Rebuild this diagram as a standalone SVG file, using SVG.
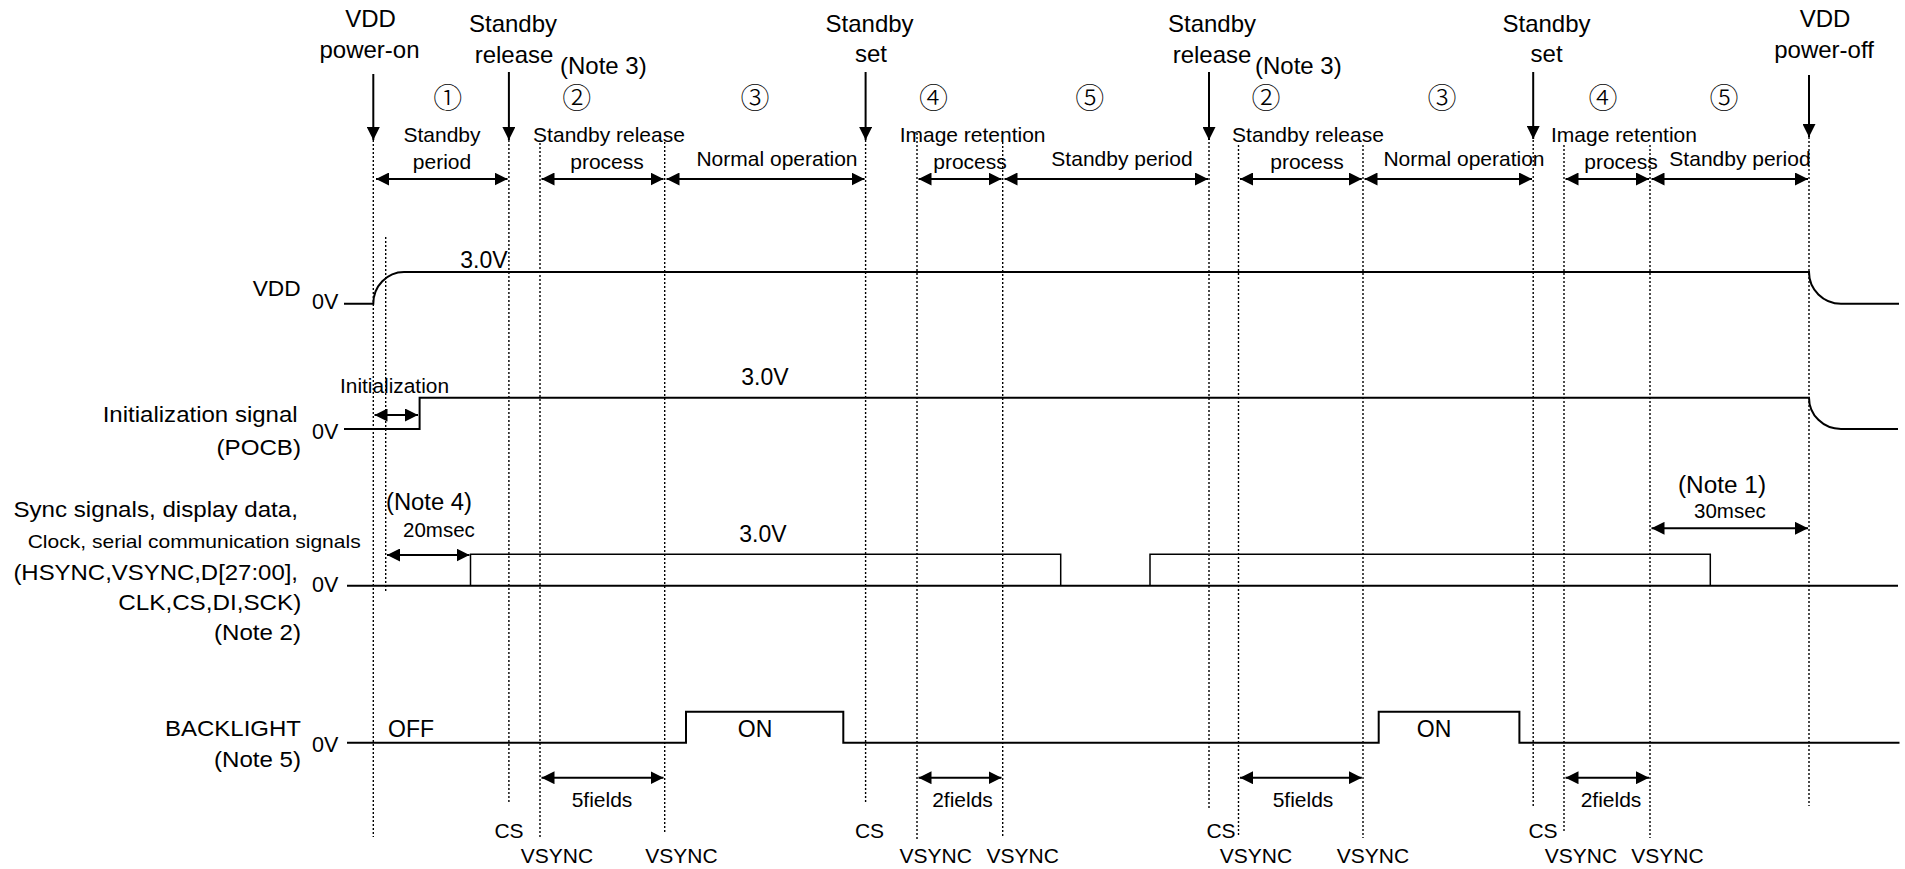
<svg xmlns="http://www.w3.org/2000/svg" width="1905" height="869" viewBox="0 0 1905 869">
<style>
text{font-family:"Liberation Sans",Arial,sans-serif;fill:#000}
.top{font-size:24px;text-anchor:middle}
.ph{font-size:21px;text-anchor:middle}
.num{font-family:"Noto Sans CJK JP",sans-serif;font-weight:300;font-size:29px;text-anchor:middle}
.sig{font-size:22px}
.zv{font-size:21.5px}
.sm{font-size:21px;text-anchor:middle}
.big{font-size:23px;text-anchor:middle}
.dot{stroke:#000;stroke-width:1.4;stroke-dasharray:2 2;fill:none}
.wave{stroke:#000;stroke-width:2;fill:none}
.wthin{stroke:#000;stroke-width:1.5;fill:none}
.arr{stroke:#000;stroke-width:2;fill:none;marker-end:url(#ah)}
.darr{stroke:#000;stroke-width:2;fill:none;marker-start:url(#ah);marker-end:url(#ah)}
</style>
<defs>
<marker id="ah" viewBox="0 0 13 13" refX="13" refY="6.5" markerWidth="13" markerHeight="13" markerUnits="userSpaceOnUse" orient="auto-start-reverse">
<path d="M0,0 L13,6.5 L0,13 Z" fill="#000"/>
</marker>
</defs>
<rect width="1905" height="869" fill="#fff"/>

<g id="connectors">
<g id="gridlines">
<line class="dot" x1="373.3" y1="140" x2="373.3" y2="837"/>
<line class="dot" x1="385.7" y1="237" x2="385.7" y2="593"/>
<line class="dot" x1="508.9" y1="140" x2="508.9" y2="804"/>
<line class="dot" x1="540" y1="143" x2="540" y2="837"/>
<line class="dot" x1="664.7" y1="142" x2="664.7" y2="834"/>
<line class="dot" x1="865.6" y1="140" x2="865.6" y2="803"/>
<line class="dot" x1="917" y1="133" x2="917" y2="840"/>
<line class="dot" x1="1002.7" y1="142" x2="1002.7" y2="838"/>
<line class="dot" x1="1209" y1="142" x2="1209" y2="808"/>
<line class="dot" x1="1238.5" y1="145" x2="1238.5" y2="837"/>
<line class="dot" x1="1363" y1="145" x2="1363" y2="838"/>
<line class="dot" x1="1533.2" y1="140" x2="1533.2" y2="806"/>
<line class="dot" x1="1564" y1="145" x2="1564" y2="833"/>
<line class="dot" x1="1650" y1="145" x2="1650" y2="838"/>
<line class="dot" x1="1809" y1="137" x2="1809" y2="806"/>
</g>
<g id="event-arrows">
<line class="arr" x1="373.3" y1="74" x2="373.3" y2="140"/>
<line class="arr" x1="508.9" y1="72" x2="508.9" y2="140"/>
<line class="arr" x1="865.6" y1="72" x2="865.6" y2="140"/>
<line class="arr" x1="1209" y1="72" x2="1209" y2="140"/>
<line class="arr" x1="1533.2" y1="72" x2="1533.2" y2="139"/>
<line class="arr" x1="1809" y1="75" x2="1809" y2="137"/>
</g>
<g id="phase-arrows">
<line class="darr" x1="376" y1="179" x2="507.5" y2="179"/>
<line class="darr" x1="541.5" y1="179" x2="663.5" y2="179"/>
<line class="darr" x1="666.5" y1="179" x2="864.5" y2="179"/>
<line class="darr" x1="918.5" y1="179" x2="1001.5" y2="179"/>
<line class="darr" x1="1004.5" y1="179" x2="1208" y2="179"/>
<line class="darr" x1="1240" y1="179" x2="1361.8" y2="179"/>
<line class="darr" x1="1364.5" y1="179" x2="1532" y2="179"/>
<line class="darr" x1="1565.5" y1="179" x2="1649" y2="179"/>
<line class="darr" x1="1651.5" y1="179" x2="1808" y2="179"/>
</g>
<g id="timing-arrows">
<line class="darr" x1="374.5" y1="415" x2="418" y2="415"/>
<line class="darr" x1="387" y1="555" x2="469.5" y2="555"/>
<line class="darr" x1="1651.5" y1="528.3" x2="1808" y2="528.3"/>
<line class="darr" x1="541.5" y1="777.7" x2="663.5" y2="777.7"/>
<line class="darr" x1="918.5" y1="777.7" x2="1001.5" y2="777.7"/>
<line class="darr" x1="1240" y1="777.7" x2="1361.8" y2="777.7"/>
<line class="darr" x1="1565.5" y1="777.7" x2="1649" y2="777.7"/>
</g>
</g>

<g id="events">
<g id="ev-poweron">
<text class="top" x="370.5" y="27">VDD</text>
<text class="top" x="369.5" y="58">power-on</text>
</g>
<g id="ev-release1">
<text class="top" x="513" y="32">Standby</text>
<text class="top" x="514" y="63">release</text>
<text x="560" y="74" style="font-size:24px">(Note 3)</text>
</g>
<g id="ev-set1">
<text class="top" x="869.6" y="32">Standby</text>
<text class="top" x="871" y="62">set</text>
</g>
<g id="ev-release2">
<text class="top" x="1212" y="32">Standby</text>
<text class="top" x="1212" y="63">release</text>
<text x="1255" y="74" style="font-size:24px">(Note 3)</text>
</g>
<g id="ev-set2">
<text class="top" x="1546.5" y="32">Standby</text>
<text class="top" x="1546.6" y="62">set</text>
</g>
<g id="ev-poweroff">
<text class="top" x="1825" y="27">VDD</text>
<text class="top" x="1824" y="58">power-off</text>
</g>
</g>

<g id="phases">
<g id="ph1"><text class="num" x="447.7" y="109">①</text><text class="ph" x="442" y="142">Standby</text><text class="ph" x="442" y="169">period</text></g>
<g id="ph2a"><text class="num" x="576.7" y="109">②</text><text class="ph" x="609" y="142">Standby release</text><text class="ph" x="607" y="169">process</text></g>
<g id="ph3a"><text class="num" x="755" y="109">③</text><text class="ph" x="777" y="166">Normal operation</text></g>
<g id="ph4a"><text class="num" x="933.5" y="109">④</text><text class="ph" x="972.6" y="142">Image retention</text><text class="ph" x="970" y="169">process</text></g>
<g id="ph5a"><text class="num" x="1089.7" y="109">⑤</text><text class="ph" x="1122" y="166">Standby period</text></g>
<g id="ph2b"><text class="num" x="1266" y="109">②</text><text class="ph" x="1308" y="142">Standby release</text><text class="ph" x="1307" y="169">process</text></g>
<g id="ph3b"><text class="num" x="1442" y="109">③</text><text class="ph" x="1464" y="166">Normal operation</text></g>
<g id="ph4b"><text class="num" x="1603" y="109">④</text><text class="ph" x="1624" y="142">Image retention</text><text class="ph" x="1621" y="169">process</text></g>
<g id="ph5b"><text class="num" x="1724" y="109">⑤</text><text class="ph" x="1740" y="166">Standby period</text></g>
</g>

<g id="sig-vdd">
<text class="sig" x="252.7" y="296.3" textLength="48" lengthAdjust="spacingAndGlyphs">VDD</text>
<text class="zv" x="312" y="309">0V</text>
<text class="big" x="484" y="268.3">3.0V</text>
<path class="wave" d="M344 303.7 H373.3 A30.7 31.7 0 0 1 404 272 H1809 A32 31.7 0 0 0 1841 303.7 H1899"/>
</g>

<g id="sig-pocb">
<text class="sig" x="102.7" y="422" textLength="195" lengthAdjust="spacingAndGlyphs">Initialization signal</text>
<text class="sig" x="216.5" y="455" textLength="84.5" lengthAdjust="spacingAndGlyphs">(POCB)</text>
<text class="zv" x="312" y="438.5">0V</text>
<text x="340" y="393" style="font-size:20px" textLength="109" lengthAdjust="spacingAndGlyphs">Initialization</text>
<text class="big" x="765" y="385">3.0V</text>
<path class="wave" d="M344 429 H419.6 V397.7 H1809 A32 31.3 0 0 0 1841 429 H1898"/>
</g>

<g id="sig-sync">
<text class="sig" x="13.4" y="516.7" textLength="284.6" lengthAdjust="spacingAndGlyphs">Sync signals, display data,</text>
<text x="27.7" y="548.3" style="font-size:19px" textLength="333" lengthAdjust="spacingAndGlyphs">Clock, serial communication signals</text>
<text class="sig" x="13.4" y="580" textLength="284.6" lengthAdjust="spacingAndGlyphs">(HSYNC,VSYNC,D[27:00],</text>
<text class="sig" x="118.3" y="610" textLength="183" lengthAdjust="spacingAndGlyphs">CLK,CS,DI,SCK)</text>
<text class="sig" x="214" y="640" textLength="87" lengthAdjust="spacingAndGlyphs">(Note 2)</text>
<text class="zv" x="312" y="592">0V</text>
<text x="386" y="510" style="font-size:23px" textLength="86" lengthAdjust="spacingAndGlyphs">(Note 4)</text>
<text x="403" y="536.7" style="font-size:20.5px">20msec</text>
<text class="big" x="763" y="541.7">3.0V</text>
<text x="1678" y="493" style="font-size:23px" textLength="88" lengthAdjust="spacingAndGlyphs">(Note 1)</text>
<text x="1694" y="518" style="font-size:20.5px">30msec</text>
<path class="wave" d="M347 585.7 H1898"/>
<path class="wthin" d="M470.5 585.7 V554.3 H1060.7 V585.7 M1150 585.7 V554.3 H1710.3 V585.7"/>
</g>

<g id="sig-backlight">
<text class="sig" x="165" y="736" textLength="136" lengthAdjust="spacingAndGlyphs">BACKLIGHT</text>
<text class="sig" x="214" y="766.7" textLength="87" lengthAdjust="spacingAndGlyphs">(Note 5)</text>
<text class="zv" x="312" y="751.7">0V</text>
<text x="388" y="736.7" style="font-size:23px">OFF</text>
<text class="big" x="755" y="736.7">ON</text>
<text class="big" x="1434" y="736.7">ON</text>
<path class="wave" d="M347 742.7 H686 V711.7 H843.3 V742.7 H1378.7 V711.7 H1519.4 V742.7 H1899.5"/>
</g>

<g id="bottom-labels">
<text class="sm" x="602" y="806.7">5fields</text>
<text class="sm" x="962.5" y="806.7">2fields</text>
<text class="sm" x="1303" y="806.7">5fields</text>
<text class="sm" x="1611" y="806.7">2fields</text>
<text class="sm" x="509" y="838.3">CS</text>
<text class="sm" x="869.5" y="838.3">CS</text>
<text class="sm" x="1221" y="838.3">CS</text>
<text class="sm" x="1543" y="838.3">CS</text>
<text class="sm" x="557" y="863.3">VSYNC</text>
<text class="sm" x="681.5" y="863.3">VSYNC</text>
<text class="sm" x="935.7" y="863.3">VSYNC</text>
<text class="sm" x="1022.7" y="863.3">VSYNC</text>
<text class="sm" x="1256" y="863.3">VSYNC</text>
<text class="sm" x="1373" y="863.3">VSYNC</text>
<text class="sm" x="1581" y="863.3">VSYNC</text>
<text class="sm" x="1667.5" y="863.3">VSYNC</text>
</g>
</svg>
